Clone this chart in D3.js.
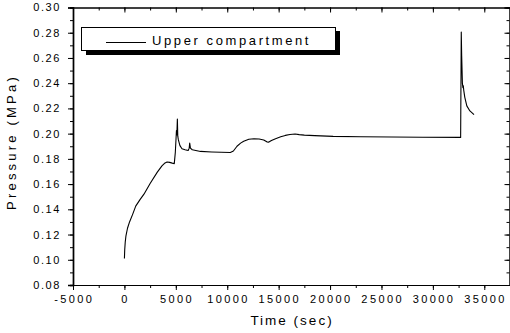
<!DOCTYPE html>
<html>
<head>
<meta charset="utf-8">
<script src="https://cdn.jsdelivr.net/npm/d3@7"></script>
<style>
  html, body { margin: 0; padding: 0; background: #fff; }
  svg { display: block; }
  text { font-family: Arial, "Liberation Sans", sans-serif; fill: #000; }
</style>
</head>
<body>
<svg id="chart" width="510" height="333"></svg>
<script>
// Pressure history of the upper compartment: [time (s), pressure (MPa)]
const timeSec = [0, 30, 80, 150, 300, 500, 800, 1100, 1500, 1900, 2500, 3200, 3650, 3900, 4150, 4400, 4650, 4850,
  4950, 5020, 5060, 5100, 5150, 5190, 5250, 5400, 5600, 5900, 6200, 6300, 6350, 6420, 6600, 7400, 8500, 10300,
  10600, 10950, 11300, 11600, 12100, 12600, 13100, 13550, 13850, 14050, 14300, 14700, 15200, 15650, 16100, 16600,
  17000, 17500, 18500, 20300, 23000, 26000, 29000, 32700, 32760, 32800, 32870, 32920, 32960, 33000, 33100, 33300,
  33600, 34000];
const pressureMPa = [0.101, 0.108, 0.114, 0.119, 0.125, 0.130, 0.136, 0.1425, 0.1475, 0.152, 0.1605, 0.1695, 0.1745,
  0.1765, 0.1775, 0.1772, 0.1766, 0.1762, 0.185, 0.196, 0.2025, 0.199, 0.2115, 0.198, 0.195, 0.1905, 0.188, 0.1872,
  0.1866, 0.1885, 0.1925, 0.1885, 0.1872, 0.1859, 0.1855, 0.1851, 0.1862, 0.190, 0.1925, 0.194, 0.1955, 0.196,
  0.1958, 0.1950, 0.1935, 0.1933, 0.1945, 0.196, 0.1975, 0.1986, 0.1993, 0.1997, 0.1992, 0.1988, 0.1984, 0.1978,
  0.1975, 0.1973, 0.1971, 0.197, 0.2805, 0.262, 0.240, 0.2365, 0.238, 0.2345, 0.229, 0.222, 0.218, 0.215];

const xTicks = [-5000, 0, 5000, 10000, 15000, 20000, 25000, 30000, 35000];
const yTicks = [0.08, 0.10, 0.12, 0.14, 0.16, 0.18, 0.20, 0.22, 0.24, 0.26, 0.28, 0.30];
const seriesName = "Upper compartment";
const xTitle = "Time (sec)";
const yTitle = "Pressure (MPa)";

const svg = d3.select("#chart");
const plotLeft = 73, plotRight = 510, plotTop = 7.5, plotBottom = 285;

const x = d3.scaleLinear().domain([-5000, 37500]).range([plotLeft, plotRight]);
const y = d3.scaleLinear().domain([0.08, 0.30]).range([plotBottom, plotTop]);

const xMinor = d3.range(-5000, 37501, 2500);
const yMinor = d3.range(8, 31).map(v => v / 100);

const MAJ = 5, MIN = 3;

function tickPair(g, axisFn, scale, minor, major) {
  g.call(axisFn(scale).tickValues(minor).tickSize(MIN).tickFormat(""));
  g.append("g").call(axisFn(scale).tickValues(major).tickSize(MAJ).tickFormat(""));
}

// Bottom axis (ticks outward)
tickPair(svg.append("g").attr("transform", `translate(0,${plotBottom})`), d3.axisBottom, x, xMinor, xTicks);
// Top axis (ticks inward)
tickPair(svg.append("g").attr("transform", `translate(0,${plotTop})`), d3.axisBottom, x, xMinor, xTicks);
// Left axis (ticks outward)
const gL = svg.append("g").attr("transform", `translate(${plotLeft},0)`);
tickPair(gL, d3.axisLeft, y, yMinor, yTicks);
// Right axis (ticks inward)
tickPair(svg.append("g").attr("transform", `translate(${plotRight - 0.5},0)`), d3.axisLeft, y, yMinor, yTicks);

svg.selectAll(".domain").attr("stroke", "#000").attr("stroke-width", 1);
svg.selectAll(".tick line").attr("stroke", "#000").attr("stroke-width", 1);
gL.selectAll(".domain").attr("stroke-width", 1.4);

// Tick labels
svg.append("g").selectAll("text").data(xTicks).join("text")
  .attr("x", d => x(d) + 1.2)
  .attr("y", 303)
  .attr("text-anchor", "middle")
  .attr("font-size", 11)
  .attr("letter-spacing", 2.4)
  .text(d => String(d));

svg.append("g").selectAll("text").data(yTicks).join("text")
  .attr("x", 61)
  .attr("y", d => y(d))
  .attr("dy", "0.36em")
  .attr("text-anchor", "end")
  .attr("font-size", 11)
  .attr("letter-spacing", 1.6)
  .text(d => d3.format(".2f")(d));

// Axis titles
svg.append("text")
  .attr("x", 292).attr("y", 325)
  .attr("text-anchor", "middle")
  .attr("font-size", 13.5)
  .attr("letter-spacing", 2)
  .text(xTitle);

svg.append("text")
  .attr("transform", "translate(16,142) rotate(-90)")
  .attr("text-anchor", "middle")
  .attr("font-size", 13)
  .attr("letter-spacing", 3.2)
  .text(yTitle);

// Data line
const line = d3.line().x(d => x(d[0])).y(d => y(d[1]));
svg.append("path")
  .datum(d3.zip(timeSec, pressureMPa))
  .attr("fill", "none")
  .attr("stroke", "#000")
  .attr("stroke-width", 1.1)
  .attr("stroke-linejoin", "round")
  .attr("d", line);

// Legend with drop shadow
const lg = svg.append("g");
lg.append("rect").attr("x", 86).attr("y", 31).attr("width", 254).attr("height", 24).attr("fill", "#000");
lg.append("rect").attr("x", 81.5).attr("y", 27.5).attr("width", 254).attr("height", 23)
  .attr("fill", "#fff").attr("stroke", "#000").attr("stroke-width", 1);
lg.append("line").attr("x1", 106).attr("x2", 146).attr("y1", 42.5).attr("y2", 42.5)
  .attr("stroke", "#000").attr("stroke-width", 1);
lg.append("text").attr("x", 152).attr("y", 45)
  .attr("font-size", 13)
  .attr("letter-spacing", 2.6)
  .text(seriesName);
</script>
</body>
</html>
